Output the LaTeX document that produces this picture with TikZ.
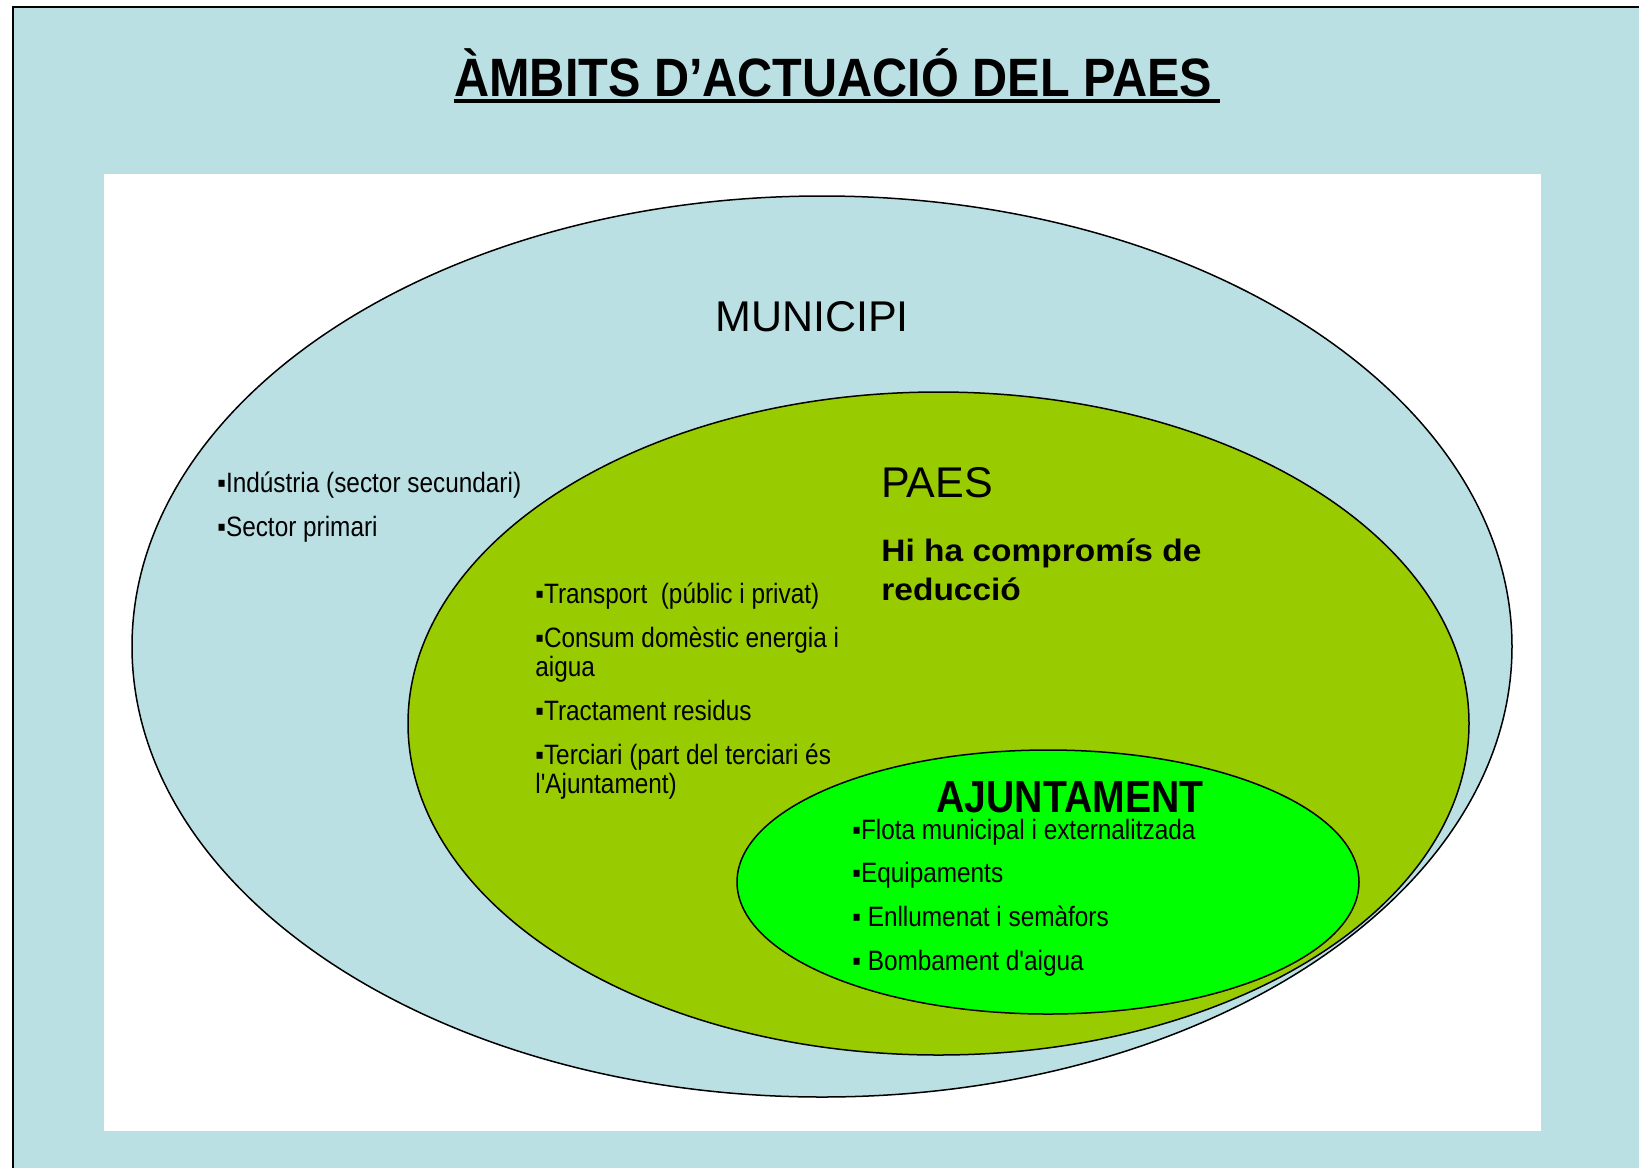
\documentclass[tikz,border=0pt]{standalone}
\usepackage{fontspec}
\setmainfont{Liberation Sans}
\newfontfamily\narrowfont[FakeStretch=0.87]{Liberation Sans}
\newfontfamily\titlefont[FakeStretch=0.9]{Liberation Sans}
\newfontfamily\widefont[FakeStretch=1.08]{Liberation Sans}
\usepackage{tikz}

\definecolor{paesblue}{HTML}{BBE0E3}
\definecolor{paesolive}{HTML}{99CC00}
\definecolor{paesgreen}{HTML}{00FF00}

\tikzset{
  zone/.style={draw=black, line width=0.75pt},
  item/.style={anchor=base west, inner sep=0pt, font=\narrowfont\fontsize{14}{16}\selectfont},
  heading/.style={inner sep=0pt, font=\fontsize{21.5}{24}\selectfont},
}

\begin{document}
\begin{tikzpicture}[x=0.5pt,y=-0.5pt]
\useasboundingbox (0,0) rectangle (1639,1168);

% Draw background panel, frame and white sheet.
\fill[paesblue] (13,7) rectangle (1639,1168);
\draw[line width=1pt] (13,1168) -- (13,7) -- (1639,7);
\fill[white] (104,174) rectangle (1541,1131);

% Title with underline.
\node[anchor=base west, inner sep=0pt, font=\titlefont\bfseries\fontsize{27}{30}\selectfont] (title) at (454,96) {ÀMBITS D’ACTUACIÓ DEL PAES};
\draw[line width=2pt] (454,101) -- (1220,101);

% Draw nested ellipses.
\draw[zone, fill=paesblue] (822,646.5) ellipse [x radius=690, y radius=450.5];
\draw[zone, fill=paesolive] (938.5,723.5) ellipse [x radius=530.5, y radius=331.5];
\draw[zone, fill=paesgreen] (1048,882) ellipse [x radius=311, y radius=132];

% Municipi.
\node[heading, anchor=base] (municipi) at (812,331) {MUNICIPI};
\node[item] (ind) at (217,492) {▪Indústria (sector secundari)};
\node[item] (prim) at (217,536) {▪Sector primari};

% PAES.
\node[heading, anchor=base west] (paes) at (881,497) {PAES};
\node[anchor=base west, inner sep=0pt, font=\widefont\bfseries\fontsize{15.5}{19}\selectfont] (compromis) at (881,561) {Hi ha compromís de};
\node[anchor=base west, inner sep=0pt, font=\widefont\bfseries\fontsize{15.5}{19}\selectfont] (reduccio) at (881,600) {reducció};
\node[item] (transp) at (535,603) {▪Transport\ \ (públic i privat)};
\node[item] (consum) at (535,647) {▪Consum domèstic energia i};
\node[item] (aigua) at (535,676) {aigua};
\node[item] (resid) at (535,720) {▪Tractament residus};
\node[item] (terc) at (535,764) {▪Terciari (part del terciari és};
\node[item] (tercb) at (535,793) {l'Ajuntament)};

% Ajuntament.
\node[anchor=base, inner sep=0pt, font=\narrowfont\bfseries\fontsize{22.5}{25}\selectfont] (ajuntament) at (1070,812) {AJUNTAMENT};
\node[item] (flota) at (852,839) {▪Flota municipal i externalitzada};
\node[item] (equip) at (852,882) {▪Equipaments};
\node[item] (enllum) at (852,926) {▪ Enllumenat i semàfors};
\node[item] (bomb) at (852,970) {▪ Bombament d'aigua};
\end{tikzpicture}
\end{document}
